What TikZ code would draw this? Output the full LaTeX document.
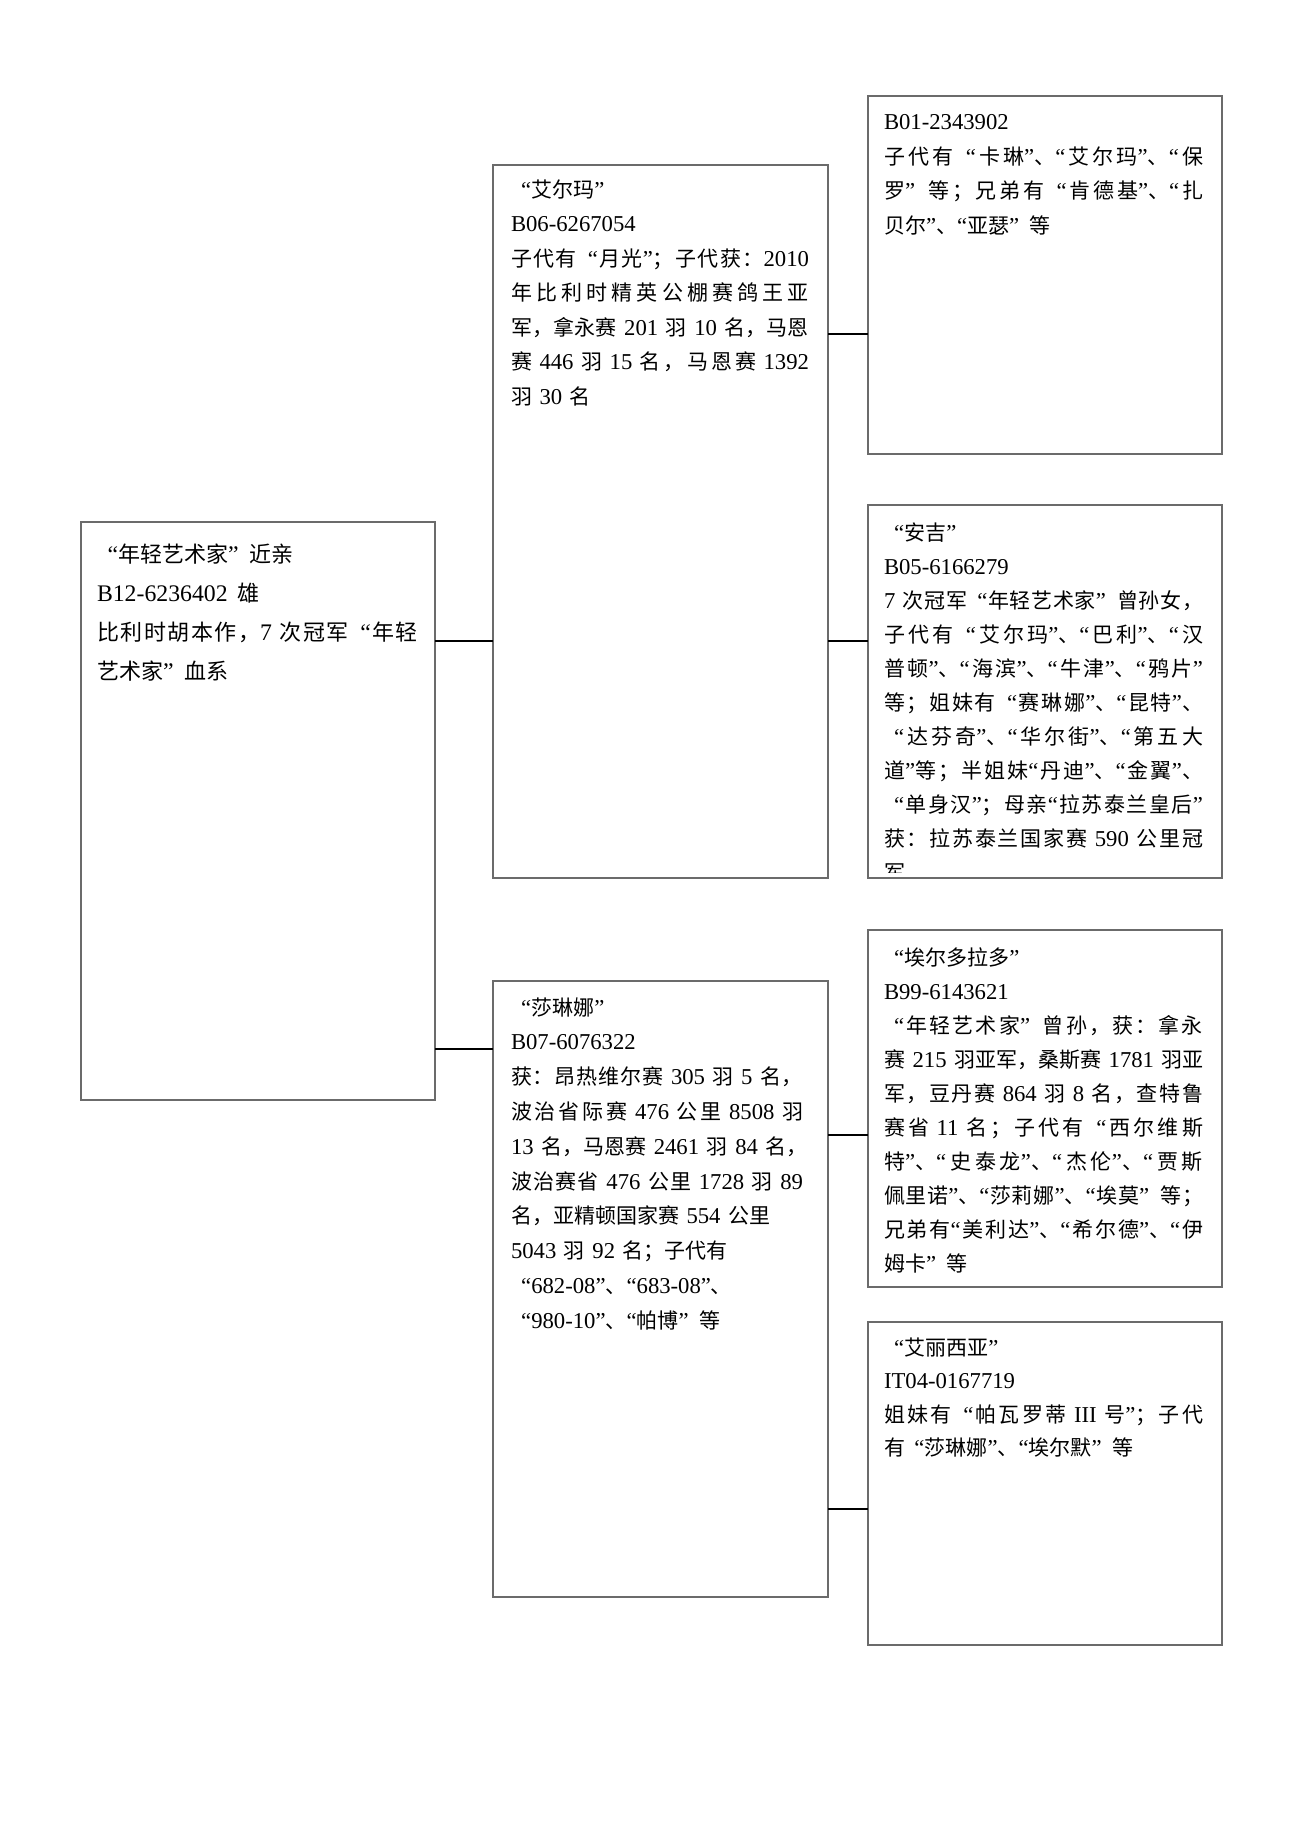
\documentclass[tikz,border=0pt]{standalone}
\usepackage{fontspec}
\setmainfont[Scale=1.08]{Liberation Serif}
\newfontfamily\cjkf{Noto Sans CJK SC}
\newcommand\latf{\rmfamily}
\newcommand\jglue{\hskip0pt plus 1pt\relax}
\newcommand\jline[1]{\leavevmode\hbox to \linewidth{#1}}
\newcommand\qind{\leavevmode\hbox{}\kern.45em\relax}
\newcommand\nok{\kern0pt\relax}
\newXeTeXintercharclass\clsI
\newXeTeXintercharclass\clsP
\newXeTeXintercharclass\clsO
\newXeTeXintercharclass\clsC
\newcount\mycnt
\mycnt="4E00
\loop
  \XeTeXcharclass\mycnt=\clsI
  \advance\mycnt by 1
\ifnum\mycnt<"A000 \repeat
\XeTeXcharclass"3001=\clsP
\XeTeXcharclass"3002=\clsP
\XeTeXcharclass"FF0C=\clsP
\XeTeXcharclass"FF1B=\clsP
\XeTeXcharclass"FF1A=\clsP
\XeTeXcharclass"FF01=\clsP
\XeTeXcharclass"FF1F=\clsP
\XeTeXcharclass"201C=\clsO
\XeTeXcharclass"201D=\clsC
\XeTeXinterchartoks 0 \clsI = {\cjkf\jglue}
\XeTeXinterchartoks 0 \clsP = {\cjkf}
\XeTeXinterchartoks 4095 \clsI = {\cjkf}
\XeTeXinterchartoks 4095 \clsP = {\cjkf}
\XeTeXinterchartoks \clsO \clsI = {\cjkf\jglue}
\XeTeXinterchartoks \clsO \clsP = {\cjkf}
\XeTeXinterchartoks \clsC \clsI = {\cjkf\kern.5em\jglue}
\XeTeXinterchartoks \clsC \clsP = {\cjkf}
\XeTeXinterchartoks \clsI \clsI = {\jglue}
\XeTeXinterchartoks \clsI \clsP = {\jglue}
\XeTeXinterchartoks \clsP \clsI = {\jglue}
\XeTeXinterchartoks \clsP \clsP = {\jglue}
\XeTeXinterchartoks \clsI 0 = {\jglue\latf}
\XeTeXinterchartoks \clsP 0 = {\latf}
\XeTeXinterchartoks \clsI 4095 = {\latf}
\XeTeXinterchartoks \clsP 4095 = {\latf}
\XeTeXinterchartoks \clsI \clsO = {\jglue\kern.45em\latf}
\XeTeXinterchartoks \clsP \clsO = {\latf}
\XeTeXinterchartoks \clsI \clsC = {\latf}
\XeTeXinterchartoks \clsP \clsC = {\latf}
\XeTeXinterchartoks 4095 0 = {\latf}
\XeTeXinterchartoks 4095 \clsO = {\latf}
\XeTeXinterchartoks 4095 \clsC = {\latf}
\XeTeXinterchartokenstate=1
\begin{document}
\begin{tikzpicture}[x=1pt,y=-1pt,
  box/.style={draw=black!58, line width=1.5pt, inner sep=0pt, outer sep=0pt, fill=white},
  conn/.style={draw=black, line width=2.2pt},
  txt/.style n args={3}{font=\fontsize{#1}{#2}\selectfont, text width=#3, anchor=base west, align=left, inner sep=0pt, outer sep=0pt}]
\fill[white] (0,0) rectangle (1300,1838);
\useasboundingbox (0,0) rectangle (1300,1838);
% boxes
\node[box, minimum width=354, minimum height=578] (root) at (258,811) {};
\node[box, minimum width=335, minimum height=713] (elma) at (660.5,521.5) {};
\node[box, minimum width=354, minimum height=358] (b01) at (1045,275) {};
\node[box, minimum width=354, minimum height=373] (anji) at (1045,691.5) {};
\node[box, minimum width=335, minimum height=616] (shalina) at (660.5,1289) {};
\node[box, minimum width=354, minimum height=357] (eldo) at (1045,1108.5) {};
\node[box, minimum width=354, minimum height=323] (alicia) at (1045,1483.5) {};
% connector levels
\coordinate (ya) at (0,641);
\coordinate (yb) at (0,1049);
\coordinate (yc) at (0,334);
\coordinate (yd) at (0,641);
\coordinate (ye) at (0,1135);
\coordinate (yf) at (0,1509);
\draw[conn] (root.east |- ya) -- (elma.west |- ya);
\draw[conn] (root.east |- yb) -- (shalina.west |- yb);
\draw[conn] (elma.east |- yc) -- (b01.west |- yc);
\draw[conn] (elma.east |- yd) -- (anji.west |- yd);
\draw[conn] (shalina.east |- ye) -- (eldo.west |- ye);
\draw[conn] (shalina.east |- yf) -- (alicia.west |- yf);
% texts
\node[txt={22}{39}{321}] (troot) at (97,562) {%
\qind“年轻艺术家”近亲\\
B12-6236402\hspace{10pt}雄\\
\jline{比利时胡本作，7 次冠军“年轻}\\
艺术家”血系};
\node[txt={21}{34.5}{298}] (telma) at (511,197) {%
\qind“艾尔玛”\\
B06-6267054\\
\jline{子代有“月光”；子代获：2010}\\
\jline{年比利时精英公棚赛鸽王亚}\\
\jline{军，拿永赛 201 羽 10 名，马恩}\\
\jline{赛 446 羽 15 名，马恩赛 1392}\\
羽 30 名};
\node[txt={21}{34.5}{319}] (tb01) at (884,130) {%
B01-2343902\\
\jline{子代有“卡琳”、“艾尔玛”、“保}\\
\jline{罗”等；兄弟有“肯德基”、“扎}\\
贝尔”、“亚瑟”等};
\begin{scope}
\clip (868,505) rectangle (1222,872);
\node[txt={21}{34}{319}] (tanji) at (884,540) {%
\qind“安吉”\\
B05-6166279\\
\jline{7 次冠军“年轻艺术家”曾孙女，}\\
\jline{子代有“艾尔玛”、“巴利”、“汉}\\
\jline{普顿”、“海滨”、“牛津”、“鸦片”}\\
\jline{等；姐妹有“赛琳娜”、“昆特”、}\\
\jline{\qind“达芬奇”、“华尔街”、“第五大}\\
\jline{道”\nok 等；半姐妹\nok“丹迪”、“金翼”、}\\
\jline{\qind“单身汉”；母亲\nok“拉苏泰兰皇后”}\\
\jline{获：拉苏泰兰国家赛 590 公里冠}\\
军};
\end{scope}
\node[txt={21}{34.8}{292}] (tshalina) at (511,1015) {%
\qind“莎琳娜”\\
B07-6076322\\
\jline{获：昂热维尔赛 305 羽 5 名，}\\
\jline{波治省际赛 476 公里 8508 羽}\\
\jline{13 名，马恩赛 2461 羽 84 名，}\\
\jline{波治赛省 476 公里 1728 羽 89}\\
名，亚精顿国家赛 554 公里\\
5043 羽 92 名；子代有\\
\qind“682-08”、“683-08”、\\
\qind“980-10”、“帕博”等};
\node[txt={21}{34.1}{319}] (teldo) at (884,965) {%
\qind“埃尔多拉多”\\
B99-6143621\\
\jline{\qind“年轻艺术家”曾孙，获：拿永}\\
\jline{赛 215 羽亚军，桑斯赛 1781 羽亚}\\
\jline{军，豆丹赛 864 羽 8 名，查特鲁}\\
\jline{赛省 11 名；子代有“西尔维斯}\\
\jline{特”、“史泰龙”、“杰伦”、“贾斯}\\
\jline{佩里诺”、“莎莉娜”、“埃莫”等；}\\
\jline{兄弟有\nok“美利达”、“希尔德”、“伊}\\
姆卡”等};
\node[txt={21}{33.5}{319}] (talicia) at (884,1355) {%
\qind“艾丽西亚”\\
IT04-0167719\\
\jline{姐妹有“帕瓦罗蒂 III 号”；子代}\\
有“莎琳娜”、“埃尔默”等};
\end{tikzpicture}
\end{document}
